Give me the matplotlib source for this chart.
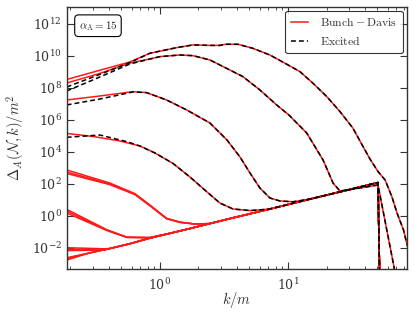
import numpy as np
import matplotlib
matplotlib.use('Agg')
import matplotlib.pyplot as plt

plt.rcParams['mathtext.fontset'] = 'cm'
plt.rcParams['font.family'] = 'DejaVu Serif'

# log10 of Delta_A / m^2
# shared k^2 tail that all low curves run into
k_tail = [0.187, 0.284, 0.407, 0.583, 0.835, 1.2, 1.72, 2.46, 3.52, 5.05,
          7.23, 10.4, 14.9, 21.3, 30.5, 43.7, 50.5]
e_tail = [-2.66, -2.30, -2.03, -1.73, -1.38, -1.08, -0.78, -0.47, -0.16, 0.14,
          0.44, 0.75, 1.06, 1.36, 1.66, 1.97, 2.09]
k_drop = 52.3
e_drop = -5.0

# low bundles (Bunch-Davis only visible)
k_b1 = [0.187, 0.407, 0.638, 0.835, 1.128, 1.433, 1.87]
e_b1 = [[2.88, 2.06, 1.40, 0.69, -0.14, -0.375, -0.50],
        [2.75, 2.00, 1.36, 0.66, -0.16, -0.39, -0.50],
        [2.66, 1.96, 1.34, 0.64, -0.17, -0.40, -0.50]]
k_b2 = [0.187, 0.384, 0.553, 0.835]
e_b2 = [[0.42, -0.85, -1.32, -1.34],
        [0.31, -0.88, -1.33, -1.35],
        [0.19, -0.90, -1.34, -1.36]]
k_b3 = [0.187, 0.284, 0.37]
e_b3 = [[-1.98, -2.02, -2.05],
        [-2.08, -2.08, -2.09],
        [-2.16, -2.14, -2.12]]
k_b4 = [0.187]
e_b4 = [[-2.61], [-2.75]]

# upper curves
k_c1 = [0.187, 0.340, 0.583, 0.835, 1.35, 1.81, 2.46, 2.94, 3.24, 4.07, 5.31, 7.23,
        9.51, 12.41, 15.62, 20.1, 25.5, 32.1, 36.5, 43.7, 50.5, 57.4, 64.8, 71.1,
        79.9, 84.6, 88.5]
e_c1_bd = [8.53, 9.11, 9.625, 10.17, 10.52, 10.69, 10.66, 10.66, 10.73, 10.73, 10.48, 10.06,
           9.54, 9.02, 8.31, 7.46, 6.52, 5.5, 4.69, 3.56, 2.78, 2.25, 1.21, 0.19,
           -0.875, -1.69, -2.25]
e_c1_ex = [8.06, 8.85, 9.59] + e_c1_bd[3:]

k_c2 = [0.187, 0.340, 0.583, 0.835, 1.0, 1.433, 1.81, 2.46, 3.31, 4.45, 6.04, 8.16,
        10.18, 14.0, 18.8, 22.5, 25.5, 36.5, 50.5, 67.3, 72.3]
e_c2_bd = [8.31, 8.91, 9.56, 9.81, 9.96, 10.06, 10.02, 9.75, 9.23, 8.71, 7.875, 6.94,
           6.31, 5.19, 3.5, 2.06, 1.56, 1.75, 1.94, -3.17, -4.625]
e_c2_ex = [7.81, 8.69, 9.5] + e_c2_bd[3:]

k_c3 = [0.187, 0.340, 0.615, 0.787, 1.128, 1.62, 2.46, 3.34, 4.22, 5.05, 6.04, 7.23,
        8.66, 10.94]
e_c3_bd = [7.25, 7.5, 7.77, 7.71, 7.25, 6.625, 5.81, 4.75, 3.69, 2.69, 1.75, 1.125,
           0.94, 0.89]
e_c3_ex = [6.94, 7.31, 7.75] + e_c3_bd[3:]

k_c4 = [0.187, 0.300, 0.487, 0.698, 0.914, 1.263, 1.715, 2.32, 2.94, 3.72, 5.05, 6.62]
e_c4_bd = [5.16, 4.97, 4.69, 4.375, 3.94, 3.29, 2.44, 1.52, 0.81, 0.44, 0.34, 0.41]
k_c4_ex = [0.187, 0.340, 0.556] + k_c4[3:]
e_c4_ex = [4.92, 5.06, 4.64] + e_c4_bd[3:]


def with_tail(k_head, e_head):
    k = list(k_head) + [kk for kk in k_tail if kk > k_head[-1]] + [k_drop]
    e = list(e_head) + [ee for kk, ee in zip(k_tail, e_tail) if kk > k_head[-1]] + [e_drop]
    return np.array(k), 10.0 ** np.array(e)


fig = plt.figure(figsize=(4.15, 3.12), dpi=100)
ax = fig.add_axes([0.1607, 0.1378, 0.8193, 0.8398])

red = dict(color='#ff1a1a', lw=1.1, ls='-')
blk = dict(color='black', lw=1.1, ls=(0, (3.2, 2.0)))

# Bunch-Davis
for k_h, e_list in [(k_b1, e_b1), (k_b2, e_b2), (k_b3, e_b3), (k_b4, e_b4)]:
    for e_h in e_list:
        ax.plot(*with_tail(k_h, e_h), **red)
ax.plot(*with_tail(k_tail[:1], e_tail[:1]), **red)
ax.plot(k_c1, 10.0 ** np.array(e_c1_bd), **red)
ax.plot(k_c2, 10.0 ** np.array(e_c2_bd), **red)
ax.plot(*with_tail(k_c3, e_c3_bd), **red)
ax.plot(*with_tail(k_c4, e_c4_bd), **red, label=r'$\mathrm{Bunch}-\mathrm{Davis}$')

# Excited
ax.plot(k_c1, 10.0 ** np.array(e_c1_ex), **blk)
ax.plot(k_c2, 10.0 ** np.array(e_c2_ex), **blk)
ax.plot(*with_tail(k_c3, e_c3_ex), **blk)
ax.plot(*with_tail(k_c4_ex, e_c4_ex), **blk, label=r'$\mathrm{Excited}$')

ax.set_xscale('log')
ax.set_yscale('log')
ax.set_xlim(0.187, 84.6)
ax.set_ylim(10 ** -3.31, 10 ** 13.06)
ax.set_yticks([10.0 ** p for p in range(-2, 13, 2)])
ax.yaxis.set_minor_locator(matplotlib.ticker.NullLocator())
ax.tick_params(which='both', direction='in', top=True, right=True, labelsize=9,
               colors='#333333')
ax.tick_params(which='major', length=5, width=0.8)
ax.tick_params(which='minor', length=2.5, width=0.6)
ax.tick_params(axis='x', which='major', pad=6)
for s in ax.spines.values():
    s.set_color('#333333')
    s.set_linewidth(1.0)

ax.set_xlabel(r'$k/m$', fontsize=10.5, color='#333333')
ax.xaxis.set_label_coords(0.5, -0.08)
ax.set_ylabel(r'$\Delta_A(\mathcal{N},k)/m^2$', fontsize=10.5, color='#333333')

leg = ax.legend(loc='upper right', fontsize=8.5, frameon=True, fancybox=True,
                handlelength=1.5, handletextpad=1.0, borderpad=0.45,
                labelspacing=0.45, borderaxespad=0.35)
leg.get_frame().set_edgecolor('black')
leg.get_frame().set_linewidth(0.8)
for t in leg.get_texts():
    t.set_color('#333333')

ax.text(0.035, 0.955, r'$\alpha_{\rm A}=15$', transform=ax.transAxes, fontsize=8,
        va='top', ha='left', color='#222222',
        bbox=dict(boxstyle='round,pad=0.35', fc='white', ec='black', lw=0.8))

fig.savefig('out.png', dpi=100)
